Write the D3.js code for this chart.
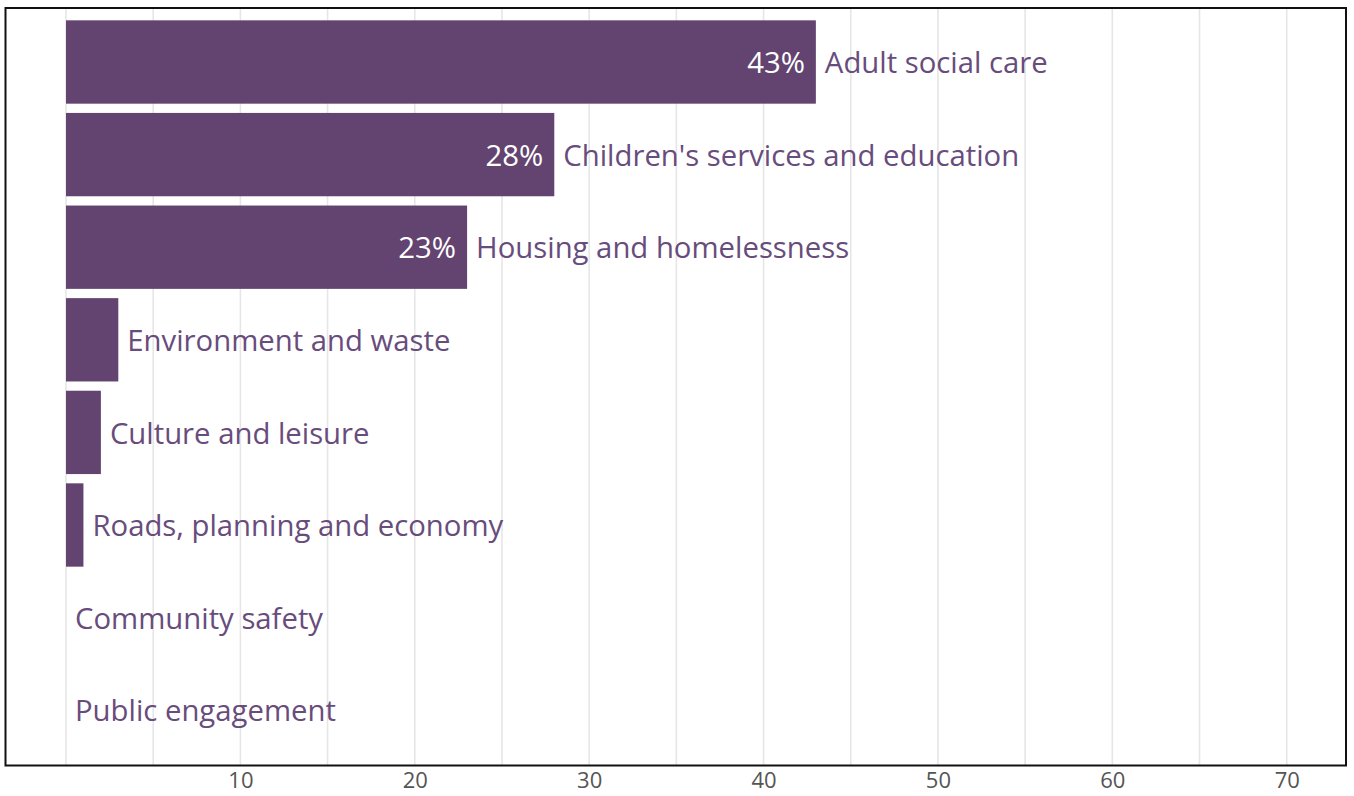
<!DOCTYPE html>
<html>
<head>
<meta charset="utf-8">
<script src="https://cdn.jsdelivr.net/npm/d3@7"></script>
<style>
  html, body { margin: 0; padding: 0; background: #fff; }
  svg { display: block; font-family: "Open Sans", sans-serif; }
</style>
</head>
<body>
<svg id="chart" width="1354" height="796"></svg>
<script>
// Service areas and their share (%)
const categories = [
  "Adult social care",
  "Children's services and education",
  "Housing and homelessness",
  "Environment and waste",
  "Culture and leisure",
  "Roads, planning and economy",
  "Community safety",
  "Public engagement"
];
const values = [43, 28, 23, 3, 2, 1, 0, 0];
// Values that carry a percentage label inside the bar
const showPct = [true, true, true, false, false, false, false, false];
const tickLabels = [10, 20, 30, 40, 50, 60, 70];
const gridValues = [0, 5, 10, 15, 20, 25, 30, 35, 40, 45, 50, 55, 60, 65, 70];

const data = categories.map((c, i) => ({ cat: c, val: values[i], pct: showPct[i] }));

const svg = d3.select("#chart");
const frame = { left: 5.5, top: 8, right: 1346, bottom: 765.5 };

const x = d3.scaleLinear().domain([0, 73.4]).range([66, 1346]);
const y = d3.scaleBand().domain(categories).range([15.7, 756.5]).paddingInner(0.1).paddingOuter(0.05);

const barColor = "#634470";
const labelColor = "#684c7c";
const labelSize = 29.3;

// gridlines
svg.append("g")
  .selectAll("line")
  .data(gridValues)
  .join("line")
  .attr("x1", d => x(d)).attr("x2", d => x(d))
  .attr("y1", frame.top).attr("y2", frame.bottom)
  .attr("stroke", "#e6e6e6")
  .attr("stroke-width", 1.6);

// bars
svg.append("g")
  .selectAll("rect")
  .data(data)
  .join("rect")
  .attr("x", x(0))
  .attr("y", d => y(d.cat))
  .attr("width", d => x(d.val) - x(0))
  .attr("height", y.bandwidth())
  .attr("fill", barColor);

// percentage labels inside bars
svg.append("g")
  .selectAll("text")
  .data(data.filter(d => d.pct))
  .join("text")
  .attr("x", d => x(d.val) - 11)
  .attr("y", d => y(d.cat) + y.bandwidth() / 2)
  .attr("dy", "0.38em")
  .attr("text-anchor", "end")
  .attr("fill", "#ffffff")
  .attr("font-size", labelSize)
  .text(d => d.val + "%");

// category labels after bars
svg.append("g")
  .selectAll("text")
  .data(data)
  .join("text")
  .attr("x", d => x(d.val) + 9)
  .attr("y", d => y(d.cat) + y.bandwidth() / 2)
  .attr("dy", "0.38em")
  .attr("fill", labelColor)
  .attr("font-size", labelSize)
  .text(d => d.cat);

// x axis labels
const axis = d3.axisBottom(x).tickValues(tickLabels).tickSize(0).tickPadding(7);
const ax = svg.append("g")
  .attr("transform", `translate(0,${frame.bottom})`)
  .call(axis);
ax.select(".domain").remove();
ax.selectAll("text")
  .attr("font-family", "Open Sans, sans-serif")
  .attr("font-size", 22)
  .attr("fill", "#555555");

// frame
svg.append("rect")
  .attr("x", frame.left).attr("y", frame.top)
  .attr("width", frame.right - frame.left)
  .attr("height", frame.bottom - frame.top)
  .attr("fill", "none")
  .attr("stroke", "#111")
  .attr("stroke-width", 2);
</script>
</body>
</html>
